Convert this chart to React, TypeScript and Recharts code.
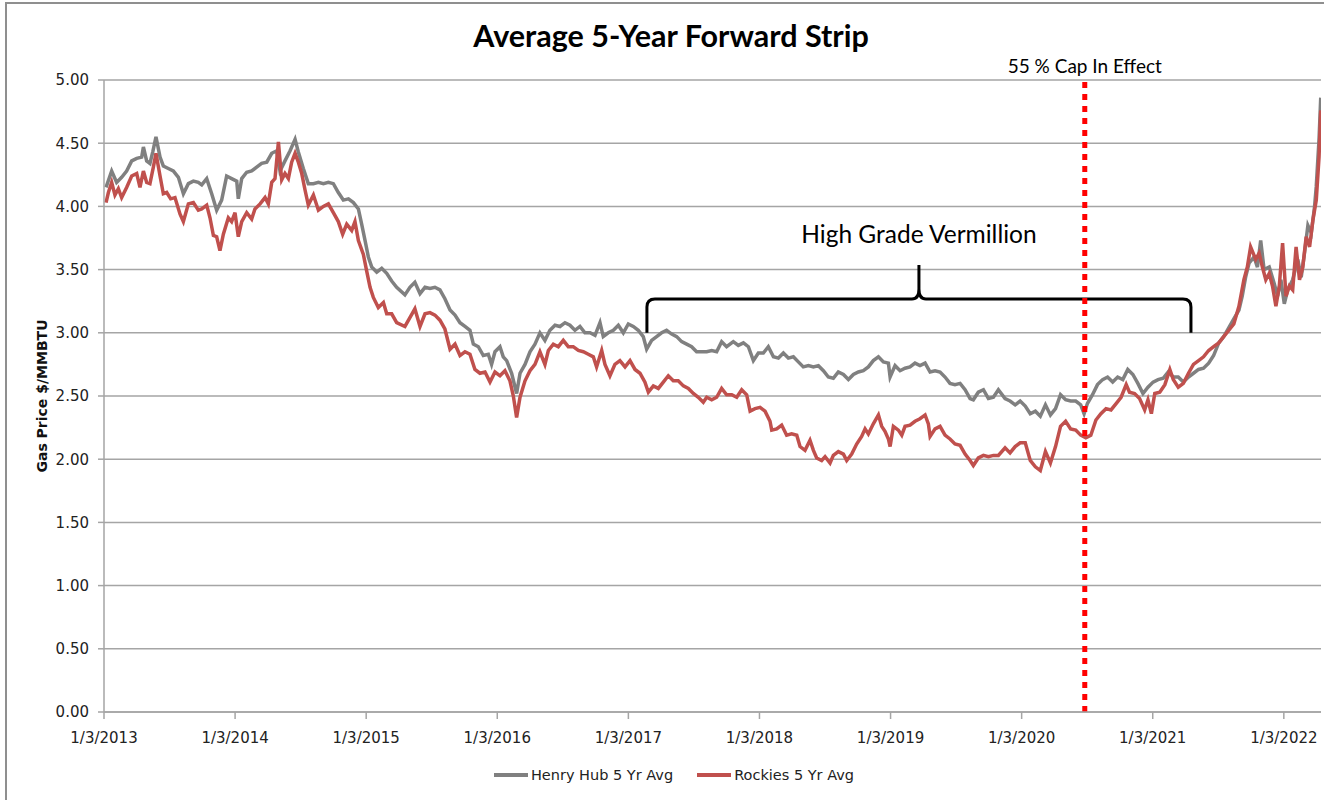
import React from 'react';
import {
  LineChart,
  Line,
  XAxis,
  YAxis,
  CartesianGrid,
  ReferenceLine,
  ReferenceArea,
  Legend,
  Customized,
} from 'recharts';

// Time is expressed in decimal years; Jan 3 of a year is year + 0.0055.
// Henry Hub 5-year average forward strip, $/MMBTU
const henryHub: [number, number][] = [
  [2013.021, 4.15], [2013.064, 4.28], [2013.102, 4.19], [2013.14, 4.23], [2013.178, 4.28],
  [2013.217, 4.36], [2013.255, 4.38], [2013.293, 4.39], [2013.306, 4.47], [2013.331, 4.36],
  [2013.356, 4.34], [2013.377, 4.43], [2013.402, 4.55], [2013.433, 4.39], [2013.458, 4.32],
  [2013.496, 4.3], [2013.534, 4.28], [2013.573, 4.23], [2013.611, 4.1], [2013.649, 4.18],
  [2013.687, 4.2], [2013.725, 4.19], [2013.751, 4.17], [2013.789, 4.22], [2013.827, 4.1],
  [2013.865, 3.97], [2013.903, 4.05], [2013.941, 4.24], [2013.979, 4.22], [2014.018, 4.2],
  [2014.03, 4.06], [2014.056, 4.22], [2014.094, 4.27], [2014.132, 4.28], [2014.17, 4.31],
  [2014.208, 4.34], [2014.247, 4.35], [2014.285, 4.42], [2014.323, 4.44], [2014.348, 4.28],
  [2014.386, 4.36], [2014.425, 4.44], [2014.463, 4.53], [2014.488, 4.43], [2014.526, 4.3],
  [2014.564, 4.18], [2014.603, 4.18], [2014.641, 4.19], [2014.679, 4.18], [2014.717, 4.19],
  [2014.755, 4.18], [2014.793, 4.11], [2014.831, 4.05], [2014.87, 4.06], [2014.908, 4.03],
  [2014.946, 3.98], [2014.971, 3.86], [2014.997, 3.73], [2015.022, 3.6], [2015.048, 3.52],
  [2015.086, 3.48], [2015.124, 3.51], [2015.162, 3.47], [2015.2, 3.41], [2015.238, 3.36],
  [2015.301, 3.3], [2015.339, 3.36], [2015.377, 3.4], [2015.416, 3.31], [2015.454, 3.36],
  [2015.492, 3.35], [2015.53, 3.36], [2015.568, 3.34], [2015.606, 3.27], [2015.645, 3.18],
  [2015.683, 3.14], [2015.721, 3.08], [2015.759, 3.05], [2015.797, 3.02], [2015.823, 2.91],
  [2015.861, 2.89], [2015.899, 2.82], [2015.937, 2.83], [2015.962, 2.75], [2015.988, 2.85],
  [2016.026, 2.89], [2016.051, 2.81], [2016.077, 2.78], [2016.115, 2.68], [2016.153, 2.52],
  [2016.179, 2.68], [2016.217, 2.75], [2016.255, 2.85], [2016.293, 2.91], [2016.331, 3.0],
  [2016.369, 2.94], [2016.407, 3.02], [2016.446, 3.06], [2016.484, 3.05], [2016.522, 3.08],
  [2016.56, 3.06], [2016.598, 3.02], [2016.636, 3.05], [2016.674, 3.0], [2016.713, 3.0],
  [2016.751, 2.98], [2016.789, 3.08], [2016.814, 2.97], [2016.852, 3.0], [2016.891, 3.02],
  [2016.929, 3.06], [2016.967, 3.0], [2017.005, 3.07], [2017.043, 3.05], [2017.081, 3.02],
  [2017.119, 2.97], [2017.145, 2.87], [2017.183, 2.94], [2017.221, 2.97], [2017.259, 3.0],
  [2017.297, 3.02], [2017.336, 2.99], [2017.374, 2.97], [2017.412, 2.93], [2017.45, 2.91],
  [2017.488, 2.89], [2017.526, 2.85], [2017.565, 2.85], [2017.603, 2.85], [2017.641, 2.86],
  [2017.679, 2.85], [2017.717, 2.93], [2017.755, 2.89], [2017.806, 2.93], [2017.844, 2.9],
  [2017.883, 2.92], [2017.921, 2.89], [2017.959, 2.78], [2017.997, 2.84], [2018.035, 2.84],
  [2018.073, 2.89], [2018.112, 2.81], [2018.15, 2.8], [2018.188, 2.84], [2018.226, 2.8],
  [2018.264, 2.81], [2018.302, 2.77], [2018.34, 2.73], [2018.379, 2.74], [2018.417, 2.73],
  [2018.455, 2.74], [2018.493, 2.7], [2018.531, 2.65], [2018.569, 2.64], [2018.607, 2.69],
  [2018.646, 2.67], [2018.684, 2.63], [2018.722, 2.67], [2018.76, 2.69], [2018.798, 2.7],
  [2018.836, 2.73], [2018.874, 2.78], [2018.913, 2.81], [2018.951, 2.77], [2018.989, 2.76],
  [2019.002, 2.65], [2019.04, 2.74], [2019.078, 2.7], [2019.116, 2.72], [2019.154, 2.73],
  [2019.192, 2.76], [2019.23, 2.74], [2019.269, 2.76], [2019.307, 2.69], [2019.345, 2.7],
  [2019.383, 2.69], [2019.421, 2.65], [2019.459, 2.6], [2019.497, 2.59], [2019.536, 2.6],
  [2019.574, 2.55], [2019.612, 2.48], [2019.637, 2.47], [2019.675, 2.53], [2019.714, 2.55],
  [2019.752, 2.48], [2019.79, 2.49], [2019.828, 2.55], [2019.879, 2.48], [2019.917, 2.46],
  [2019.956, 2.43], [2019.994, 2.46], [2020.033, 2.42], [2020.071, 2.36], [2020.11, 2.38],
  [2020.148, 2.34], [2020.187, 2.43], [2020.225, 2.35], [2020.264, 2.4], [2020.302, 2.51],
  [2020.341, 2.47], [2020.379, 2.46], [2020.418, 2.46], [2020.456, 2.43], [2020.482, 2.36],
  [2020.507, 2.44], [2020.546, 2.51], [2020.584, 2.59], [2020.623, 2.63], [2020.661, 2.65],
  [2020.7, 2.61], [2020.738, 2.65], [2020.777, 2.63], [2020.815, 2.71], [2020.854, 2.67],
  [2020.892, 2.6], [2020.931, 2.52], [2020.969, 2.57], [2021.008, 2.61], [2021.046, 2.63],
  [2021.085, 2.64], [2021.124, 2.69], [2021.162, 2.65], [2021.2, 2.65], [2021.239, 2.61],
  [2021.278, 2.65], [2021.316, 2.68], [2021.355, 2.71], [2021.393, 2.72], [2021.432, 2.76],
  [2021.47, 2.82], [2021.509, 2.92], [2021.547, 2.97], [2021.586, 3.04], [2021.624, 3.11],
  [2021.663, 3.18], [2021.688, 3.29], [2021.714, 3.44], [2021.74, 3.55], [2021.778, 3.6],
  [2021.804, 3.52], [2021.829, 3.73], [2021.855, 3.5], [2021.894, 3.52], [2021.932, 3.39],
  [2021.958, 3.29], [2021.983, 3.42], [2022.009, 3.23], [2022.035, 3.34], [2022.073, 3.42],
  [2022.112, 3.58], [2022.138, 3.44], [2022.163, 3.63], [2022.189, 3.85], [2022.215, 3.79],
  [2022.24, 4.0], [2022.253, 4.16], [2022.274, 4.53], [2022.287, 4.86],
];

// Rockies 5-year average forward strip, $/MMBTU
const rockies: [number, number][] = [
  [2013.021, 4.03], [2013.039, 4.11], [2013.064, 4.19], [2013.089, 4.09], [2013.115, 4.14],
  [2013.14, 4.07], [2013.178, 4.15], [2013.217, 4.24], [2013.255, 4.26], [2013.28, 4.15],
  [2013.306, 4.28], [2013.331, 4.19], [2013.356, 4.18], [2013.382, 4.31], [2013.402, 4.42],
  [2013.433, 4.24], [2013.458, 4.1], [2013.484, 4.11], [2013.514, 4.06], [2013.547, 4.07],
  [2013.585, 3.94], [2013.611, 3.88], [2013.649, 4.02], [2013.687, 4.03], [2013.725, 3.97],
  [2013.751, 3.98], [2013.789, 4.01], [2013.814, 3.91], [2013.84, 3.77], [2013.865, 3.76],
  [2013.89, 3.65], [2013.916, 3.78], [2013.954, 3.91], [2013.979, 3.88], [2014.005, 3.95],
  [2014.03, 3.76], [2014.056, 3.88], [2014.094, 3.95], [2014.132, 3.9], [2014.157, 3.98],
  [2014.196, 4.02], [2014.234, 4.07], [2014.259, 4.02], [2014.285, 4.19], [2014.31, 4.22],
  [2014.336, 4.51], [2014.361, 4.21], [2014.386, 4.26], [2014.412, 4.22], [2014.437, 4.35],
  [2014.463, 4.42], [2014.488, 4.35], [2014.514, 4.26], [2014.539, 4.13], [2014.564, 4.01],
  [2014.603, 4.09], [2014.641, 3.97], [2014.679, 4.0], [2014.717, 4.02], [2014.755, 3.95],
  [2014.793, 3.88], [2014.826, 3.78], [2014.857, 3.86], [2014.895, 3.81], [2014.92, 3.88],
  [2014.946, 3.73], [2014.984, 3.62], [2015.009, 3.49], [2015.035, 3.36], [2015.06, 3.28],
  [2015.098, 3.2], [2015.137, 3.24], [2015.162, 3.15], [2015.2, 3.15], [2015.238, 3.08],
  [2015.301, 3.05], [2015.339, 3.12], [2015.377, 3.19], [2015.416, 3.05], [2015.454, 3.15],
  [2015.492, 3.16], [2015.53, 3.14], [2015.568, 3.1], [2015.606, 3.03], [2015.645, 2.87],
  [2015.683, 2.91], [2015.721, 2.82], [2015.759, 2.85], [2015.797, 2.83], [2015.835, 2.71],
  [2015.873, 2.68], [2015.912, 2.69], [2015.95, 2.61], [2015.988, 2.69], [2016.026, 2.66],
  [2016.064, 2.7], [2016.102, 2.62], [2016.128, 2.5], [2016.153, 2.33], [2016.179, 2.49],
  [2016.217, 2.62], [2016.255, 2.7], [2016.293, 2.75], [2016.331, 2.85], [2016.369, 2.75],
  [2016.395, 2.86], [2016.433, 2.91], [2016.471, 2.89], [2016.509, 2.94], [2016.547, 2.89],
  [2016.585, 2.89], [2016.624, 2.86], [2016.662, 2.85], [2016.7, 2.83], [2016.738, 2.81],
  [2016.763, 2.73], [2016.802, 2.86], [2016.827, 2.75], [2016.865, 2.66], [2016.903, 2.75],
  [2016.941, 2.78], [2016.98, 2.73], [2017.018, 2.78], [2017.056, 2.71], [2017.094, 2.68],
  [2017.132, 2.61], [2017.158, 2.53], [2017.196, 2.58], [2017.234, 2.56], [2017.272, 2.61],
  [2017.31, 2.66], [2017.348, 2.62], [2017.386, 2.62], [2017.425, 2.58], [2017.463, 2.56],
  [2017.501, 2.52], [2017.539, 2.49], [2017.577, 2.45], [2017.603, 2.49], [2017.641, 2.47],
  [2017.679, 2.49], [2017.717, 2.56], [2017.755, 2.51], [2017.794, 2.51], [2017.832, 2.49],
  [2017.87, 2.55], [2017.908, 2.51], [2017.934, 2.38], [2017.972, 2.4], [2018.01, 2.41],
  [2018.048, 2.38], [2018.086, 2.3], [2018.099, 2.23], [2018.137, 2.24], [2018.175, 2.27],
  [2018.213, 2.19], [2018.251, 2.2], [2018.29, 2.19], [2018.315, 2.1], [2018.353, 2.07],
  [2018.391, 2.15], [2018.417, 2.07], [2018.442, 2.01], [2018.48, 1.99], [2018.506, 2.02],
  [2018.544, 1.97], [2018.569, 2.03], [2018.607, 2.06], [2018.646, 2.04], [2018.671, 1.99],
  [2018.709, 2.04], [2018.747, 2.12], [2018.785, 2.18], [2018.811, 2.24], [2018.836, 2.2],
  [2018.874, 2.28], [2018.913, 2.35], [2018.938, 2.26], [2018.963, 2.22], [2018.989, 2.16],
  [2019.002, 2.1], [2019.027, 2.26], [2019.065, 2.23], [2019.091, 2.19], [2019.116, 2.26],
  [2019.154, 2.27], [2019.192, 2.3], [2019.23, 2.32], [2019.269, 2.35], [2019.294, 2.28],
  [2019.307, 2.18], [2019.345, 2.24], [2019.383, 2.26], [2019.421, 2.19], [2019.459, 2.16],
  [2019.497, 2.12], [2019.536, 2.11], [2019.574, 2.04], [2019.612, 1.99], [2019.637, 1.95],
  [2019.675, 2.01], [2019.714, 2.03], [2019.752, 2.02], [2019.79, 2.03], [2019.828, 2.03],
  [2019.879, 2.09], [2019.917, 2.05], [2019.956, 2.1], [2019.994, 2.13], [2020.033, 2.13],
  [2020.071, 1.99], [2020.11, 1.94], [2020.148, 1.91], [2020.187, 2.06], [2020.225, 1.97],
  [2020.264, 2.1], [2020.302, 2.26], [2020.341, 2.3], [2020.379, 2.24], [2020.418, 2.23],
  [2020.456, 2.19], [2020.495, 2.17], [2020.533, 2.19], [2020.572, 2.31], [2020.61, 2.36],
  [2020.649, 2.4], [2020.687, 2.39], [2020.726, 2.44], [2020.764, 2.49], [2020.803, 2.59],
  [2020.828, 2.53], [2020.867, 2.52], [2020.905, 2.48], [2020.944, 2.39], [2020.969, 2.47],
  [2020.995, 2.36], [2021.021, 2.52], [2021.059, 2.53], [2021.098, 2.59], [2021.136, 2.71],
  [2021.162, 2.63], [2021.2, 2.57], [2021.239, 2.6], [2021.278, 2.68], [2021.316, 2.75],
  [2021.355, 2.78], [2021.393, 2.81], [2021.432, 2.86], [2021.47, 2.89], [2021.509, 2.92],
  [2021.547, 2.97], [2021.586, 3.02], [2021.624, 3.07], [2021.663, 3.21], [2021.701, 3.42],
  [2021.727, 3.52], [2021.752, 3.68], [2021.791, 3.58], [2021.817, 3.63], [2021.842, 3.52],
  [2021.868, 3.42], [2021.894, 3.47], [2021.919, 3.37], [2021.945, 3.21], [2021.971, 3.37],
  [2021.996, 3.71], [2022.022, 3.29], [2022.048, 3.37], [2022.073, 3.34], [2022.099, 3.68],
  [2022.125, 3.42], [2022.15, 3.52], [2022.176, 3.76], [2022.202, 3.68], [2022.227, 3.89],
  [2022.253, 4.05], [2022.274, 4.39], [2022.287, 4.76],
];

const tickYears = [2013, 2014, 2015, 2016, 2017, 2018, 2019, 2020, 2021, 2022];
const priceTicks = [0, 0.5, 1, 1.5, 2, 2.5, 3, 3.5, 4, 4.5, 5];
const jan3 = 0.0055;
const xDomain: [number, number] = [2013 + jan3, 2022.289];

const capInEffect = 2020.487;
const capLabel = '55 % Cap In Effect';
const braceSpan = { from: 2017.147, to: 2021.297, base: 3.0, peak: 3.536 };
const braceLabel = 'High Grade Vermillion';

const henryData = henryHub.map(([t, v]) => ({ t, v }));
const rockiesData = rockies.map(([t, v]) => ({ t, v }));

const GRID = '#a5a5a5';
const AXIS_FONT = 'DejaVu Sans';
const NOTE_FONT = 'Lato';

function Brace(props: any) {
  const { x, y, width, height } = props;
  const x0 = x;
  const x1 = x + width;
  const xc = x + width / 2;
  const yTop = y;
  const yBot = y + height;
  const yBar = y + height / 2;
  const r = 8;
  const d = [
    `M${x0},${yBot}`,
    `L${x0},${yBar + r}`,
    `Q${x0},${yBar} ${x0 + r},${yBar}`,
    `L${xc - 7},${yBar}`,
    `Q${xc},${yBar} ${xc},${yBar - 10}`,
    `L${xc},${yTop}`,
    `L${xc},${yBar - 10}`,
    `Q${xc},${yBar} ${xc + 7},${yBar}`,
    `L${x1 - r},${yBar}`,
    `Q${x1},${yBar} ${x1},${yBar + r}`,
    `L${x1},${yBot}`,
  ].join(' ');
  return (
    <g>
      <path d={d} fill="none" stroke="#000" strokeWidth={3} strokeLinejoin="miter" />
      <text
        x={xc}
        y={yTop - 22}
        textAnchor="middle"
        fontFamily={NOTE_FONT}
        fontSize={24.5}
        fill="#000"
      >
        {braceLabel}
      </text>
    </g>
  );
}

function Title() {
  return (
    <text
      x={671}
      y={47}
      textAnchor="middle"
      fontFamily={NOTE_FONT}
      fontWeight={700}
      fontSize={30.5}
      fill="#000"
    >
      Average 5-Year Forward Strip
    </text>
  );
}

function YTitle(props: any) {
  const vb = props.viewBox || { x: 44, y: 80, width: 60, height: 632 };
  const cx = vb.x - 2;
  const cy = vb.y + vb.height / 2;
  return (
    <text
      transform={`translate(${cx},${cy}) rotate(-90)`}
      textAnchor="middle"
      dominantBaseline="central"
      fontFamily={AXIS_FONT}
      fontWeight={700}
      fontSize={14}
      fill="#111"
    >
      Gas Price $/MMBTU
    </text>
  );
}

function LegendRow(props: any) {
  const payload = props.payload || [];
  return (
    <div
      style={{
        display: 'flex',
        justifyContent: 'center',
        alignItems: 'center',
        gap: 24,
        paddingLeft: 24,
        fontFamily: AXIS_FONT,
        fontSize: 14.5,
        color: '#222',
      }}
    >
      {payload.map((e: any) => (
        <div key={e.value} style={{ display: 'flex', alignItems: 'center' }}>
          <span
            style={{
              display: 'inline-block',
              width: 34,
              height: 4,
              background: e.color,
              marginRight: 3,
            }}
          />
          <span>{e.value}</span>
        </div>
      ))}
    </div>
  );
}

export default function App() {
  return (
    <div
      style={{
        position: 'absolute',
        left: 0,
        top: 0,
        width: 1324,
        height: 800,
        overflow: 'hidden',
        background: '#fff',
      }}
    >
      <div
        style={{
          position: 'absolute',
          left: 5,
          top: 2,
          width: 1340,
          height: 820,
          border: '2px solid #8f8f8f',
          boxSizing: 'border-box',
        }}
      />
      <div style={{ position: 'absolute', left: 0, top: 0 }}>
        <LineChart
          width={1324}
          height={800}
          margin={{ top: 80, right: 3, bottom: 28, left: 44 }}
        >
          <CartesianGrid horizontal vertical={false} stroke={GRID} strokeWidth={1.5} />
          <XAxis
            dataKey="t"
            type="number"
            domain={xDomain}
            allowDataOverflow
            ticks={tickYears.map((y) => y + jan3)}
            tickFormatter={(v: number) => `1/3/${Math.floor(v)}`}
            height={60}
            tickSize={7}
            tickMargin={13}
            stroke={GRID}
            strokeWidth={1.5}
            tick={{ fill: '#222', fontSize: 15, fontFamily: AXIS_FONT }}
          />
          <YAxis
            type="number"
            domain={[0, 5]}
            ticks={priceTicks}
            tickFormatter={(v: number) => v.toFixed(2)}
            width={60}
            tickSize={6}
            tickMargin={9}
            stroke={GRID}
            strokeWidth={1.5}
            tick={{ fill: '#222', fontSize: 15, fontFamily: AXIS_FONT }}
            label={{ content: (p: any) => <YTitle {...p} /> }}
          />
          <Line
            data={henryData}
            dataKey="v"
            name="Henry Hub 5 Yr Avg"
            stroke="#808080"
            strokeWidth={3.5}
            dot={false}
            activeDot={false}
            type="linear"
            isAnimationActive={false}
          />
          <Line
            data={rockiesData}
            dataKey="v"
            name="Rockies 5 Yr Avg"
            stroke="#c0504d"
            strokeWidth={3.5}
            dot={false}
            activeDot={false}
            type="linear"
            isAnimationActive={false}
          />
          <ReferenceArea
            x1={braceSpan.from}
            x2={braceSpan.to}
            y1={braceSpan.base}
            y2={braceSpan.peak}
            ifOverflow="visible"
            shape={(p: any) => <Brace {...p} />}
          />
          <ReferenceLine
            x={capInEffect}
            stroke="#ff0000"
            strokeWidth={5}
            strokeDasharray="6 6"
            ifOverflow="visible"
            label={{
              value: capLabel,
              position: 'top',
              offset: 7,
              fill: '#000',
              fontSize: 19,
              fontFamily: NOTE_FONT,
            }}
          />
          <Legend
            layout="horizontal"
            verticalAlign="middle"
            align="center"
            content={(p: any) => <LegendRow {...p} />}
            wrapperStyle={{ left: 0, top: 767, width: 1324, height: 20 }}
          />
          <Customized component={Title} />
        </LineChart>
      </div>
    </div>
  );
}
